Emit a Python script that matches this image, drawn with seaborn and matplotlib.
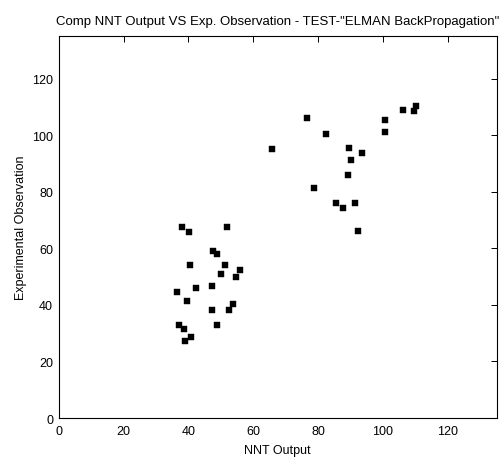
import matplotlib
matplotlib.use("Agg")
import matplotlib.pyplot as plt
import seaborn as sns
import pandas as pd

# NNT output (x) and experimental observation (y)
nnt_output = [37.9, 40.2, 52.0, 47.6, 48.9, 40.4, 51.4, 55.8, 50.2, 54.8,
              47.4, 42.3, 36.5, 39.6, 47.3, 53.6, 52.5, 48.9, 37.1, 38.6,
              40.8, 38.9,
              65.8, 76.6, 82.3, 89.5, 93.4, 90.1, 89.2, 78.8, 85.4, 87.6,
              91.3, 92.3, 100.7, 100.7, 106.2, 110.3, 109.6]
exp_observation = [67.6, 65.9, 67.5, 59.2, 58.0, 54.0, 54.0, 52.5, 51.0, 50.0,
                   46.8, 46.0, 44.6, 41.3, 38.2, 40.2, 38.2, 32.8, 32.8, 31.5,
                   28.8, 27.1,
                   95.1, 106.1, 100.3, 95.6, 93.6, 91.1, 85.9, 81.3, 76.2, 74.2,
                   76.2, 66.3, 105.3, 101.0, 109.1, 110.3, 108.5]
tick_values = [0, 20, 40, 60, 80, 100, 120]

title = 'Comp NNT Output VS Exp. Observation - TEST-"ELMAN BackPropagation"'
x_label = "NNT Output"
y_label = "Experimental Observation"

sns.set_theme(style="white")
plt.rcParams['font.family'] = ['Liberation Sans', 'DejaVu Sans']

df = pd.DataFrame({"x": nnt_output, "y": exp_observation})

fig = plt.figure(figsize=(5.0, 4.6), dpi=100)
ax = fig.add_axes([0.1174, 0.0891, 0.8756, 0.8298])

sns.scatterplot(data=df, x="x", y="y", ax=ax, marker="s", s=20,
                color="black", edgecolor="black", linewidth=0.3, legend=False)

ax.set_xlim(0, 135)
ax.set_ylim(0, 135)
ax.set_xticks(tick_values)
ax.set_yticks(tick_values)
ax.tick_params(direction="in", length=4, width=0.7, top=True, right=True,
               labelsize=9, colors="black", pad=4)
ax.tick_params(axis="x", pad=5)
for sp in ax.spines.values():
    sp.set_color("black")
    sp.set_linewidth(0.8)
    sp.set_visible(True)

ax.set_title(title, fontsize=9.5, color="black", pad=9)
ax.set_xlabel(x_label, fontsize=9, color="black", labelpad=5)
ax.set_ylabel(y_label, fontsize=9, color="black", labelpad=4)

fig.savefig("out.png", dpi=100)
